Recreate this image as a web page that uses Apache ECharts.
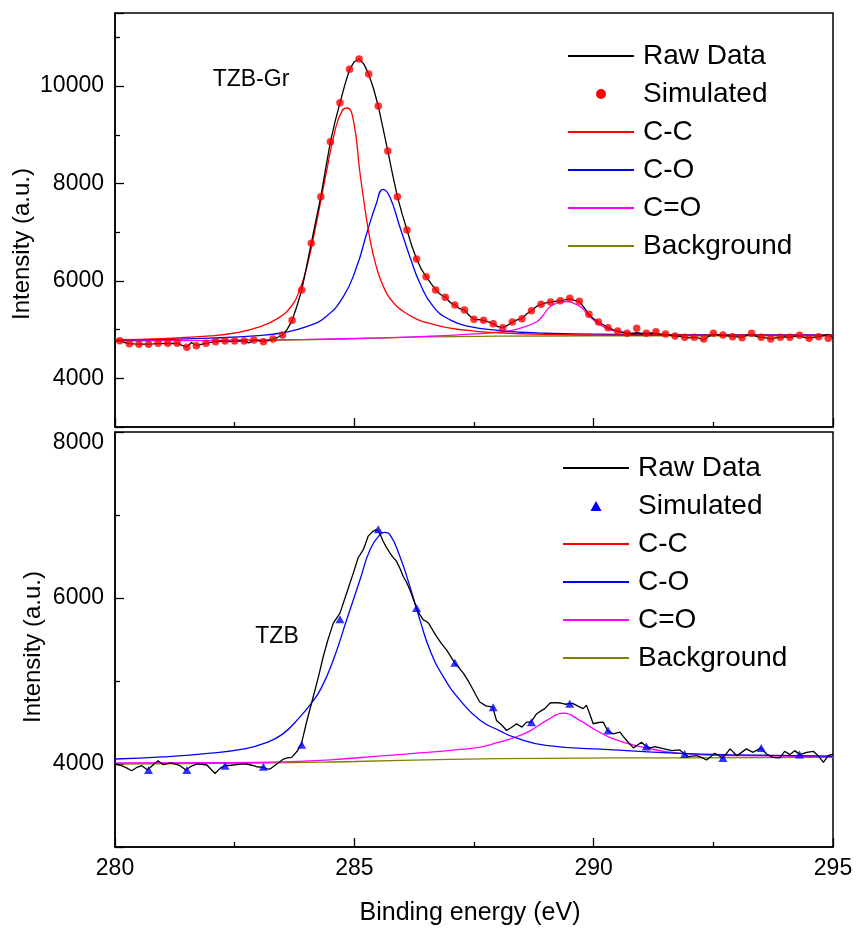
<!DOCTYPE html>
<html lang="en">
<head>
    <meta charset="UTF-8">
    <title>XPS C1s</title>
    <script src="https://cdn.jsdelivr.net/npm/echarts@6/dist/echarts.min.js"></script>
    <style>html, body { margin: 0; padding: 0; background: #fff; }</style>
</head>
<body>
<div id="main" style="width: 856px;height: 929px;"></div>

<script type="text/javascript">

    // ---- top panel (TZB-Gr) ----
    // raw data, one value every 0.1 eV from 280.0 to 295.0
    var topRawStart = 280.0;
    var topRawStep = 0.1;
    var topRaw = [
        4765, 4772, 4735, 4712, 4705, 4700, 4702, 4700, 4708, 4718,
        4712, 4718, 4714, 4716, 4675, 4645, 4735, 4672, 4695, 4718,
        4738, 4750, 4758, 4765, 4752, 4765, 4770, 4765, 4728, 4784,
        4768, 4752, 4775, 4806, 4842, 4888, 5010, 5190, 5480, 5810,
        6280, 6770, 7250, 7730, 8300, 8855, 9280, 9655, 10020, 10340,
        10500, 10555, 10450, 10245, 9950, 9590, 9130, 8665, 8180, 7730,
        7370, 7045, 6720, 6450, 6240, 6085, 5950, 5815, 5720, 5665,
        5560, 5505, 5430, 5400, 5290, 5210, 5205, 5190, 5160, 5120,
        5060, 5040, 5085, 5155, 5200, 5225, 5320, 5390, 5470, 5520,
        5550, 5565, 5580, 5595, 5610, 5630, 5600, 5580, 5450, 5315,
        5220, 5155, 5100, 5040, 5000, 4970, 4940, 4925, 4915, 4935,
        4920, 4925, 4930, 4920, 4905, 4900, 4880, 4868, 4860, 4842,
        4830, 4842, 4825, 4790, 4860, 4900, 4890, 4880, 4870, 4858,
        4850, 4838, 4885, 4900, 4860, 4842, 4830, 4810, 4830, 4842,
        4850, 4842, 4860, 4870, 4840, 4825, 4840, 4854, 4875, 4900,
        4830
    ];
    // simulated points, every 0.2 eV from 280.1
    var topSimStart = 280.1;
    var topSimStep = 0.2;
    var topSim = [
        4772, 4710, 4698, 4698, 4719, 4719, 4719, 4636, 4669, 4719,
        4751, 4766, 4766, 4766, 4786, 4751, 4807, 4889, 5190, 5813,
        6772, 7728, 8857, 9658, 10344, 10555, 10247, 9590, 8666, 7728,
        7045, 6449, 6086, 5813, 5663, 5505, 5402, 5211, 5190, 5120,
        5040, 5156, 5224, 5388, 5519, 5566, 5593, 5642, 5581, 5314,
        5156, 5039, 4971, 4924, 5026, 4924, 4957, 4909, 4868, 4842,
        4842, 4807, 4924, 4889, 4854, 4834, 4924, 4842, 4807, 4842,
        4842, 4883, 4821, 4854, 4821
    ];
    var topCC = [
        [280, 4790], [281, 4815], [282, 4870], [282.5, 4930], [283, 5050], [283.4, 5230],
        [283.7, 5500], [283.85, 5800], [284.0, 6250], [284.2, 7150], [284.4, 8150], [284.6, 9100],
        [284.75, 9500], [284.85, 9550], [284.98, 9300], [285.12, 8200], [285.22, 7500],
        [285.33, 6840], [285.45, 6330], [285.6, 5900], [285.8, 5570], [286.0, 5390],
        [286.3, 5215], [286.6, 5120], [287.0, 5030], [287.5, 4970], [288, 4935],
        [289, 4900], [290, 4888], [292, 4882], [295, 4880]
    ];
    var topCO = [
        [280, 4785], [281, 4800], [282, 4825], [283, 4878], [283.5, 4935], [284, 5060],
        [284.4, 5260], [284.77, 5675], [285.05, 6290], [285.26, 6977], [285.45, 7560],
        [285.6, 7880], [285.74, 7728], [285.95, 7112], [286.16, 6496], [286.37, 5950],
        [286.65, 5470], [287.0, 5200], [287.42, 5060], [288.0, 4985], [288.5, 4945],
        [289.0, 4925], [290.0, 4905], [292.0, 4892], [295.0, 4889]
    ];
    var topCdO = [
        [280, 4772], [282, 4780], [284, 4800], [285.5, 4830], [286.5, 4860], [287.42, 4905],
        [288.11, 4957], [288.46, 5026], [288.81, 5162], [288.95, 5300], [289.09, 5470],
        [289.4, 5573], [289.72, 5470], [289.85, 5335], [289.92, 5265], [290.2, 5060],
        [290.55, 4957], [291.3, 4905], [292, 4888], [295, 4875]
    ];
    var topBg = [
        [280, 4770], [283, 4778], [284.5, 4798], [285.5, 4825], [286.5, 4850],
        [288, 4864], [290, 4870], [295, 4872]
    ];

    // ---- bottom panel (TZB) ----
    var botRaw = [
        [280.0, 4000], [280.1, 3988], [280.22, 3960], [280.35, 3919], [280.46, 3960], [280.56, 3980],
        [280.68, 3927], [280.8, 3990], [280.9, 4040], [281.01, 3992], [281.1, 4005], [281.18, 4012],
        [281.28, 3995], [281.36, 3980], [281.48, 3927], [281.6, 3975], [281.71, 4000], [281.82, 3995],
        [281.92, 3988], [282.09, 3886], [282.2, 3950], [282.3, 3980], [282.42, 3985], [282.54, 3992],
        [282.65, 3998], [282.75, 4000], [282.86, 3985], [282.96, 3967], [283.08, 3959], [283.16, 3945],
        [283.24, 3939], [283.38, 4000], [283.52, 4060], [283.6, 4075], [283.69, 4080], [283.8, 4150],
        [283.89, 4234], [284.0, 4500], [284.14, 4807], [284.25, 5050], [284.35, 5292], [284.45, 5500],
        [284.56, 5697], [284.7, 5818], [284.84, 6060], [284.98, 6303], [285.08, 6485], [285.19, 6585],
        [285.29, 6746], [285.38, 6800], [285.47, 6828], [285.53, 6780], [285.6, 6686], [285.67, 6610],
        [285.74, 6545], [285.81, 6490], [285.88, 6444], [285.95, 6360], [286.02, 6262], [286.09, 6190],
        [286.16, 6100], [286.23, 5990], [286.3, 5879], [286.37, 5800], [286.44, 5737], [286.5, 5720],
        [286.55, 5697], [286.63, 5620], [286.72, 5534], [286.82, 5450], [286.93, 5373], [287.02, 5290],
        [287.1, 5212], [287.2, 5150], [287.28, 5091], [287.37, 5010], [287.45, 4928], [287.53, 4840],
        [287.62, 4747], [287.75, 4700], [287.89, 4686], [287.97, 4525], [288.08, 4470], [288.18, 4404],
        [288.28, 4440], [288.39, 4485], [288.5, 4444], [288.6, 4504], [288.69, 4504], [288.81, 4606],
        [288.9, 4640], [288.98, 4667], [289.09, 4735], [289.2, 4740], [289.3, 4735], [289.4, 4720],
        [289.49, 4727], [289.56, 4730], [289.64, 4707], [289.78, 4667], [289.85, 4707], [289.92, 4600],
        [289.99, 4485], [290.1, 4500], [290.2, 4504], [290.29, 4404], [290.41, 4364], [290.55, 4383],
        [290.62, 4330], [290.69, 4283], [290.83, 4194], [291.0, 4262], [291.09, 4215], [291.18, 4194],
        [291.28, 4210], [291.39, 4194], [291.5, 4180], [291.63, 4161], [291.8, 4170], [291.89, 4125],
        [291.98, 4088], [292.15, 4100], [292.25, 4080], [292.36, 4048], [292.45, 4090], [292.53, 4128],
        [292.62, 4100], [292.69, 4073], [292.78, 4130], [292.85, 4182], [292.99, 4100], [293.09, 4140],
        [293.19, 4182], [293.33, 4141], [293.42, 4170], [293.49, 4194], [293.61, 4121], [293.75, 4080],
        [293.89, 4073], [293.99, 4153], [294.1, 4113], [294.2, 4161], [294.31, 4113], [294.45, 4141],
        [294.59, 4153], [294.69, 4100], [294.8, 4020], [294.9, 4100], [295.0, 4120]
    ];
    // simulated points, every 0.8 eV from 280.7
    var botSimStart = 280.7;
    var botSimStep = 0.8;
    var botSim = [
        3927, 3927, 3979, 3967, 4232, 5745, 6828, 5879, 5219, 4683,
        4504, 4727, 4404, 4210, 4121, 4073, 4194, 4113
    ];
    var botCC = [];
    var botCO = [
        [280, 4060], [281, 4085], [282, 4130], [282.7, 4182], [283.1, 4245], [283.5, 4360],
        [283.86, 4565], [284.1, 4730], [284.3, 4905], [284.56, 5252], [284.84, 5737],
        [285.12, 6222], [285.33, 6585], [285.54, 6767], [285.64, 6790], [285.74, 6767],
        [285.95, 6504], [286.16, 6140], [286.37, 5737], [286.58, 5373], [286.86, 5050],
        [287.21, 4767], [287.62, 4530], [288.04, 4400], [288.35, 4320], [289.0, 4225],
        [290.4, 4170], [291.8, 4128], [293, 4110], [295, 4095]
    ];
    var botCdO = [
        [280, 4012], [282, 4015], [283.5, 4025], [284.5, 4050], [285.5, 4095], [286.5, 4140],
        [287.0, 4165], [287.6, 4200], [288.0, 4260], [288.32, 4315], [288.67, 4400],
        [289.02, 4525], [289.37, 4613], [289.71, 4525], [290.06, 4404], [290.41, 4303],
        [290.97, 4210], [291.8, 4128], [293, 4100], [295, 4090]
    ];
    var botBg = [
        [280, 4000], [283, 4010], [285, 4030], [287, 4055], [289, 4068], [292, 4075], [295, 4080]
    ];

    var legendNames = ['Raw Data', 'Simulated', 'C-C', 'C-O', 'C=O', 'Background'];
    var xTicks = [280, 285, 290, 295];

    function stepPairs(start, step, ys) {
        var out = [];
        for (var i = 0; i < ys.length; i++) {
            out.push([+(start + i * step).toFixed(2), ys[i]]);
        }
        return out;
    }

    var FONT = '"Liberation Sans", Arial, sans-serif';

    function lineSeries(name, data, color, idx, smooth) {
        return {
            name: name, type: 'line', data: data,
            xAxisIndex: idx, yAxisIndex: idx,
            symbol: 'none', smooth: smooth ? 0.5 : false,
            lineStyle: {color: color, width: 1.3},
            itemStyle: {color: color},
            animation: false
        };
    }

    function xAxisOpt(idx, showLabel) {
        return {
            type: 'value', gridIndex: idx, min: 280, max: 295, interval: 5,
            axisLine: {show: true, lineStyle: {color: '#000', width: 1.5}},
            axisTick: {show: true, inside: true, length: 9, lineStyle: {color: '#000', width: 1.3}},
            minorTick: {show: true, splitNumber: 2, length: 5, lineStyle: {color: '#000', width: 1.3}},
            splitLine: {show: false},
            axisLabel: {
                show: showLabel, fontSize: 23, fontFamily: FONT, color: '#000', margin: 10,
                formatter: function (v) { return xTicks.indexOf(v) >= 0 ? String(v) : ''; }
            }
        };
    }

    function yAxisOpt(idx, min, max, topShift) {
        return {
            type: 'value', gridIndex: idx, min: min, max: max,
            minInterval: 2000, maxInterval: 2000,
            axisLine: {show: true, lineStyle: {color: '#000', width: 1.5}},
            axisTick: {show: true, inside: true, length: 9, lineStyle: {color: '#000', width: 1.3}},
            minorTick: {show: true, splitNumber: 2, length: 5, lineStyle: {color: '#000', width: 1.3}},
            splitLine: {show: false},
            axisLabel: {
                fontSize: 23, fontFamily: FONT, color: '#000', margin: 11,
                formatter: function (v) {
                    if (v % 2000 !== 0) return '';
                    return (topShift && v === max) ? '{t|' + v + '}' : String(v);
                },
                rich: {t: {fontSize: 23, fontFamily: FONT, color: '#000', padding: [22, 0, 0, 0]}}
            }
        };
    }

    function legendOpt(suffix, left, top, simIcon) {
        var data = legendNames.map(function (n) {
            if (n === 'Simulated') {
                return {name: n + suffix, icon: simIcon, itemStyle: {opacity: 1}};
            }
            return {name: n + suffix};
        });
        return {
            data: data, orient: 'vertical', left: left, top: top, padding: 0,
            itemWidth: 66, itemHeight: 10, itemGap: 10, selectedMode: false,
            itemStyle: {opacity: 0},
            textStyle: {fontSize: 28, lineHeight: 28, fontFamily: FONT, color: '#000', padding: [0, 0, 0, 4]},
            formatter: function (name) { return name.split('|')[0]; }
        };
    }

    var myChart = echarts.init(document.getElementById('main'));

    myChart.setOption({
        animation: false,
        backgroundColor: '#fff',
        grid: [
            {left: 115, top: 13, width: 718, height: 414, show: true, borderColor: '#000', borderWidth: 1.5},
            {left: 115, top: 432, width: 718, height: 415, show: true, borderColor: '#000', borderWidth: 1.5}
        ],
        xAxis: [xAxisOpt(0, false), xAxisOpt(1, true)],
        yAxis: [yAxisOpt(0, 3000, 11500, false), yAxisOpt(1, 3000, 8000, true)],
        legend: [
            legendOpt('|1', 567, 42, 'circle'),
            legendOpt('|2', 562, 454, 'path://M5,0L10,9L0,9Z')
        ],
        graphic: [
            {type: 'text', x: 22, y: 244, rotation: Math.PI / 2,
                style: {text: 'Intensity (a.u.)', fontSize: 24, fontFamily: FONT, fill: '#000', align: 'center', verticalAlign: 'middle'}},
            {type: 'text', x: 33, y: 647, rotation: Math.PI / 2,
                style: {text: 'Intensity (a.u.)', fontSize: 24, fontFamily: FONT, fill: '#000', align: 'center', verticalAlign: 'middle'}},
            {type: 'text', x: 470, y: 913,
                style: {text: 'Binding energy (eV)', fontSize: 25, fontFamily: FONT, fill: '#000', align: 'center', verticalAlign: 'middle'}},
            {type: 'text', x: 251, y: 80,
                style: {text: 'TZB-Gr', fontSize: 23, fontFamily: FONT, fill: '#000', align: 'center', verticalAlign: 'middle'}},
            {type: 'text', x: 277, y: 637,
                style: {text: 'TZB', fontSize: 23, fontFamily: FONT, fill: '#000', align: 'center', verticalAlign: 'middle'}}
        ],
        series: [
            lineSeries('Background|1', topBg, '#808000', 0, true),
            lineSeries('C=O|1', topCdO, '#ff00ff', 0, true),
            lineSeries('C-O|1', topCO, '#0000ff', 0, true),
            lineSeries('C-C|1', topCC, '#ff0000', 0, true),
            lineSeries('Raw Data|1', stepPairs(topRawStart, topRawStep, topRaw), '#000000', 0, false),
            {
                name: 'Simulated|1', type: 'scatter', xAxisIndex: 0, yAxisIndex: 0,
                data: stepPairs(topSimStart, topSimStep, topSim),
                symbol: 'circle', symbolSize: 7.5, itemStyle: {color: '#ff0000'}, z: 5
            },

            lineSeries('Background|2', botBg, '#808000', 1, true),
            lineSeries('C=O|2', botCdO, '#ff00ff', 1, true),
            lineSeries('C-C|2', botCC, '#ff0000', 1, true),
            lineSeries('C-O|2', botCO, '#0000ff', 1, true),
            lineSeries('Raw Data|2', botRaw, '#000000', 1, false),
            {
                name: 'Simulated|2', type: 'scatter', xAxisIndex: 1, yAxisIndex: 1,
                data: stepPairs(botSimStart, botSimStep, botSim),
                symbol: 'triangle', symbolSize: [9, 8], itemStyle: {color: '#0000ff'}, z: 5
            }
        ]
    });

</script>
</body>
</html>
